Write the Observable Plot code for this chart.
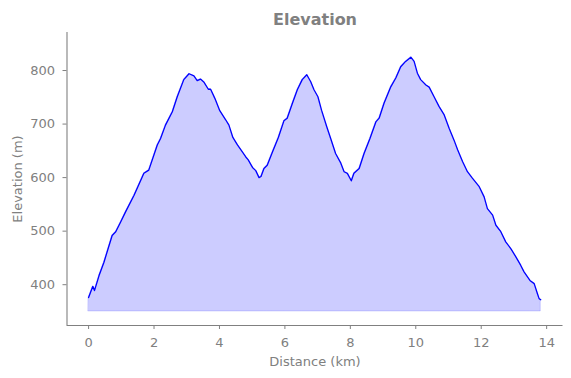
<!DOCTYPE html>
<html>
<head>
<meta charset="utf-8">
<script src="https://cdn.jsdelivr.net/npm/d3@7"></script>
<script src="https://cdn.jsdelivr.net/npm/@observablehq/plot@0.6"></script>
<style>
  html, body { margin: 0; padding: 0; background: #fff; }
  #chart svg { display: block; }
</style>
</head>
<body>
<div id="chart"></div>
<script>
const distanceKm = [0, 0.13, 0.18, 0.32, 0.47, 0.72, 0.83, 0.98, 1.13, 1.39, 1.69, 1.84, 2.10, 2.20, 2.35, 2.56, 2.71, 2.91, 3.07, 3.22, 3.32, 3.42, 3.53, 3.66, 3.73, 3.86, 4.01, 4.19, 4.29, 4.41, 4.55, 4.70, 4.80, 4.88, 5.01, 5.11, 5.21, 5.27, 5.36, 5.46, 5.62, 5.80, 5.97, 6.07, 6.23, 6.38, 6.53, 6.67, 6.79, 6.89, 7.01, 7.12, 7.28, 7.40, 7.55, 7.71, 7.81, 7.91, 8.03, 8.11, 8.27, 8.42, 8.60, 8.78, 8.88, 9.03, 9.24, 9.39, 9.54, 9.69, 9.85, 9.95, 10.05, 10.15, 10.31, 10.41, 10.56, 10.71, 10.87, 11.02, 11.17, 11.28, 11.43, 11.58, 11.73, 11.94, 12.09, 12.19, 12.35, 12.45, 12.60, 12.75, 12.91, 13.06, 13.21, 13.31, 13.49, 13.62, 13.72, 13.77, 13.82];
const elevationM = [376, 397, 389, 417, 442, 492, 499, 517, 536, 567, 608, 614, 661, 673, 698, 723, 751, 783, 794, 790, 781, 784, 778, 765, 765, 748, 725, 708, 698, 675, 661, 648, 639, 633, 619, 613, 600, 602, 617, 623, 648, 675, 706, 711, 739, 764, 783, 792, 779, 764, 751, 726, 695, 673, 645, 627, 611, 608, 594, 608, 617, 645, 673, 704, 711, 739, 770, 786, 807, 817, 825, 817, 795, 783, 773, 769, 751, 733, 717, 692, 670, 652, 630, 611, 599, 583, 564, 542, 530, 511, 499, 480, 467, 452, 436, 424, 408, 402, 383, 374, 372];
const fillBase = 350;
const xTicks = [0, 2, 4, 6, 8, 10, 12, 14];
const yTicks = [400, 500, 600, 700, 800];
const titleText = "Elevation";
const xLabel = "Distance (km)";
const yLabel = "Elevation (m)";

const data = distanceKm.map((d, i) => ({dist: d, elev: elevationM[i]}));
const xDomain = [-0.66, 14.5];
const yDomain = [323.8, 871];
const gray = "#808080";
const font = "DejaVu Sans, sans-serif";

const chart = Plot.plot({
  width: 571,
  height: 378,
  marginLeft: 66.5,
  marginRight: 8.5,
  marginTop: 32,
  marginBottom: 53,
  style: {fontFamily: font, fontSize: "13px", color: gray, background: "#fff"},
  x: {domain: xDomain},
  y: {domain: yDomain},
  marks: [
    Plot.areaY(data, {x: "dist", y1: fillBase, y2: "elev", fill: "#0000ff", fillOpacity: 0.2, stroke: "#0000ff", strokeOpacity: 0.15, strokeWidth: 1}),
    Plot.lineY(data, {x: "dist", y: "elev", stroke: "#0000ff", strokeWidth: 1.3}),
    Plot.ruleX([xDomain[0]], {y1: yDomain[0], y2: yDomain[1], stroke: gray, strokeWidth: 1.1}),
    Plot.ruleY([yDomain[0]], {x1: xDomain[0], x2: xDomain[1], stroke: gray, strokeWidth: 1.1}),
    Plot.axisX({ticks: xTicks, tickSize: 4, tickPadding: 8, fontSize: 13, color: gray, label: null, stroke: gray}),
    Plot.axisY({ticks: yTicks, tickSize: 4, tickPadding: 8, fontSize: 13, color: gray, label: null, stroke: gray}),
    Plot.text([titleText], {frameAnchor: "top", dy: -13, lineAnchor: "middle", fontSize: 16, fontWeight: "bold", fill: gray}),
    Plot.text([xLabel], {frameAnchor: "bottom", dy: 36, lineAnchor: "middle", fontSize: 13, fill: gray}),
    Plot.text([yLabel], {frameAnchor: "left", dx: -49.5, rotate: -90, lineAnchor: "middle", textAnchor: "middle", fontSize: 13, fill: gray})
  ]
});
document.getElementById("chart").appendChild(chart);
</script>
</body>
</html>
